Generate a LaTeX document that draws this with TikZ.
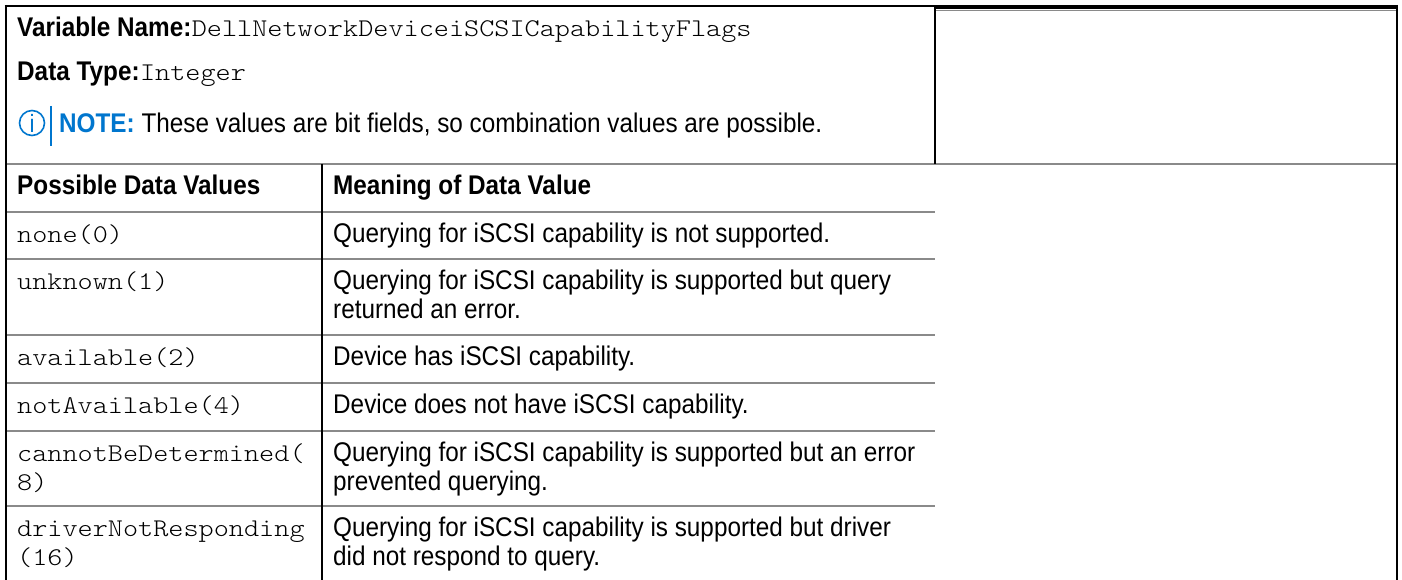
\documentclass[tikz,border=0pt]{standalone}
\usepackage{fontspec}
\setmainfont{Liberation Sans}[FakeStretch=0.9]
\setmonofont{Latin Modern Mono Light}[FakeStretch=1.13]
\usetikzlibrary{positioning}
\definecolor{dellblue}{HTML}{0076CE}
\definecolor{rulegray}{HTML}{8A8A8A}

\begin{document}
\begin{tikzpicture}[x=1pt,y=-1pt,
	txt/.style={anchor=base west,inner sep=0pt,font=\fontsize{27}{28.5}\selectfont},
	bold/.style={txt,font=\fontsize{27}{28.5}\selectfont\bfseries},
	mono/.style={txt,font=\fontsize{25.5}{28.5}\selectfont\ttfamily},
	rowline/.style={rulegray,line width=2pt},
	colline/.style={black,line width=2pt}]
			\useasboundingbox (0,0) rectangle (1402,580);
			
			% header cell
			\node[bold] (varname) at (17,36.5) {Variable Name:};
			\node[mono] (varval) at (varname.base east) {DellNetworkDeviceiSCSICapabilityFlags};
			\node[bold] (typename) at (17,81) {Data Type:};
			\node[mono] (typeval) at (typename.base east) {Integer};
			
			\node[circle,draw=dellblue,line width=1.6pt,minimum size=25pt,inner sep=0pt,text=dellblue,font=\fontsize{25}{25}\selectfont] (icon) at (32,123) {i};
			\draw[dellblue,line width=2pt] (51,106) -- (51,146);
			\node[txt] (note) at (59,132.5) {\textcolor{dellblue}{\bfseries NOTE:} These values are bit fields, so combination values are possible.};
			
			% table head
			\node[bold] (head1) at (17,194) {Possible Data Values};
			\node[bold] (head2) at (333,194) {Meaning of Data Value};
			
			% rows
			\foreach \y/\val/\mean in {
				212/{none(0)}/{Querying for iSCSI capability is not supported.},
				259/{unknown(1)}/{Querying for iSCSI capability is supported but query\\returned an error.},
				335/{available(2)}/{Device has iSCSI capability.},
				383/{notAvailable(4)}/{Device does not have iSCSI capability.},
				431/{cannotBeDetermined(\\8)}/{Querying for iSCSI capability is supported but an error\\prevented querying.},
				506/{driverNotResponding\\(16)}/{Querying for iSCSI capability is supported but driver\\did not respond to query.}}
			{
				\node[mono] (val\y) at (17,\y+30.5) {\begin{tabular}[t]{@{}l@{}}\val\end{tabular}};
				\node[txt] (mean\y) at (333,\y+30.5) {\begin{tabular}[t]{@{}l@{}}\mean\end{tabular}};
			}
			
			% rules
			\draw[rowline] (6,164) -- (1397,164);
			\foreach \y in {212,259,335,383,431,506}
			\draw[rowline] (6,\y) -- (935,\y);
			\draw[colline] (322,164) -- (322,580);
			\draw[colline] (935,6) -- (935,164);
			\draw[black,line width=2pt] (935,8.5) -- (1398,8.5);
			\draw[rulegray,line width=1.2pt] (936,10.3) -- (1396,10.3);
			\draw[colline] (6,5) -- (6,580);
			\draw[colline] (1397,5) -- (1397,580);
			\draw[black,line width=2.5pt] (4.5,6.25) -- (1398,6.25);
\end{tikzpicture}
\end{document}
